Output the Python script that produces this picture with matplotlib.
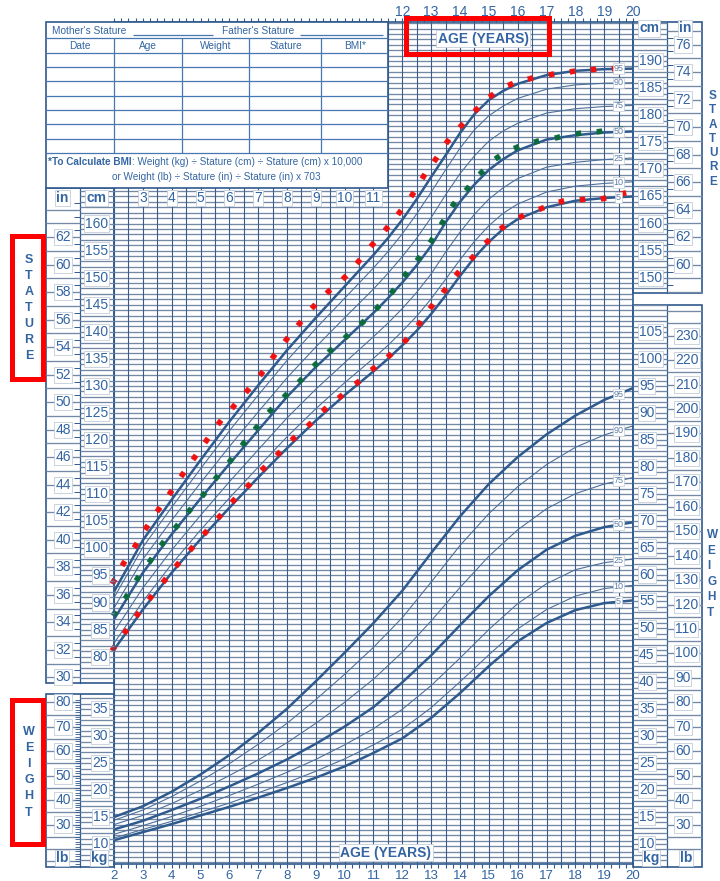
import numpy as np
import matplotlib
matplotlib.use("Agg")
import matplotlib.pyplot as plt
from matplotlib.collections import LineCollection
from matplotlib.patches import Rectangle
from matplotlib.transforms import blended_transform_factory as blend

plt.rcParams['font.family'] = ['Liberation Sans', 'DejaVu Sans']

# ---- stature-for-age percentiles (cm) ----
st_ages = [2, 3, 4, 5, 6, 7, 8, 9, 10, 11, 11.5, 12, 12.5, 13, 13.5, 14, 14.5, 15, 15.5, 16, 17, 18, 19, 20]
st_p5 = [81.3, 88.7, 95.5, 101.7, 107.5, 113.1, 118.5, 123.6, 128.3, 132.7, 135.0, 137.5, 140.2, 143.3, 146.7, 150.3, 153.7, 156.6, 159.0, 160.8, 163.0, 164.2, 164.7, 165.0]
st_p10 = [82.5, 90.2, 97.1, 103.4, 109.3, 115.0, 120.6, 125.8, 130.6, 135.1, 137.5, 140.1, 142.9, 146.1, 149.7, 153.3, 156.7, 159.6, 161.9, 163.6, 165.8, 166.9, 167.4, 167.7]
st_p25 = [84.6, 92.7, 99.7, 106.1, 112.3, 118.2, 124.1, 129.4, 134.3, 139.1, 141.6, 144.3, 147.3, 150.7, 154.7, 158.4, 161.7, 164.5, 166.6, 168.3, 170.4, 171.3, 171.8, 172.1]
st_p50 = [86.9, 95.5, 102.6, 109.2, 115.6, 121.8, 128.0, 133.5, 138.5, 143.5, 146.2, 149.1, 152.3, 155.9, 160.2, 164.0, 167.2, 169.9, 171.9, 173.5, 175.5, 176.3, 176.8, 177.0]
st_p75 = [89.0, 98.0, 105.2, 112.1, 118.8, 125.2, 131.5, 137.2, 142.6, 147.9, 150.8, 153.9, 157.3, 161.1, 165.3, 169.2, 172.5, 175.2, 177.1, 178.5, 180.4, 181.2, 181.6, 181.8]
st_p90 = [90.9, 100.2, 107.6, 114.7, 121.7, 128.3, 134.7, 140.6, 146.2, 151.8, 154.8, 158.1, 161.8, 165.8, 169.9, 173.9, 177.3, 179.9, 181.7, 183.1, 184.8, 185.6, 185.9, 186.0]
st_p95 = [92.0, 101.5, 109.0, 116.3, 123.4, 130.1, 136.6, 142.6, 148.4, 154.2, 157.3, 160.7, 164.5, 168.6, 172.6, 176.7, 180.2, 182.8, 184.5, 185.8, 187.4, 188.2, 188.5, 188.6]

# ---- weight-for-age percentiles (kg) ----
wt_ages = [2, 3, 4, 5, 6, 7, 8, 9, 10, 11, 12, 13, 14, 15, 16, 17, 18, 19, 20]
wt_p5 = [10.7, 12.2, 13.7, 15.3, 16.9, 18.6, 20.4, 22.3, 24.4, 26.9, 29.6, 33.4, 38.0, 43.0, 47.6, 51.0, 53.4, 54.7, 55.2]
wt_p10 = [11.1, 12.7, 14.2, 15.9, 17.6, 19.5, 21.4, 23.5, 25.8, 28.4, 31.3, 35.3, 40.1, 45.1, 49.9, 53.5, 56.0, 57.4, 58.0]
wt_p25 = [11.8, 13.4, 15.1, 17.0, 19.0, 21.1, 23.3, 25.7, 28.4, 31.4, 35.0, 39.4, 44.5, 49.8, 54.6, 58.3, 60.9, 62.2, 62.9]
wt_p50 = [12.7, 14.3, 16.3, 18.4, 20.7, 23.1, 25.7, 28.6, 31.8, 35.4, 40.0, 45.0, 50.6, 56.0, 60.8, 64.6, 67.2, 68.8, 69.7]
wt_p75 = [13.6, 15.3, 17.5, 20.0, 22.7, 25.6, 28.8, 32.4, 36.3, 40.6, 45.6, 51.4, 57.6, 63.4, 68.3, 72.2, 75.0, 76.8, 78.0]
wt_p90 = [14.4, 16.3, 18.8, 21.7, 24.9, 28.5, 32.4, 36.8, 41.5, 46.5, 52.0, 58.6, 65.4, 71.3, 76.3, 80.4, 83.6, 85.9, 87.6]
wt_p95 = [15.0, 17.0, 19.7, 22.9, 26.5, 30.6, 35.1, 40.2, 45.5, 51.0, 57.0, 64.0, 70.8, 76.8, 81.8, 86.0, 89.5, 92.4, 94.6]

pct_names = ['5', '10', '25', '50', '75', '90', '95']

# ---- plotted measurements ----
hi_age = [1.95, 2.32, 2.72, 3.11, 3.52, 3.93, 4.35, 4.77, 5.20, 5.65, 6.12, 6.60, 7.09, 7.53, 7.97, 8.43, 8.91, 9.43, 9.98, 10.47, 10.95, 11.42, 11.90, 12.35, 12.73, 13.12, 13.54, 14.03, 14.55, 15.08, 15.74, 16.43, 17.16, 17.90, 18.63, 19.35]
hi_cm = [93.9, 97.3, 100.6, 104.0, 107.2, 110.5, 113.7, 116.9, 120.1, 123.3, 126.3, 129.3, 132.4, 135.5, 138.6, 141.7, 144.8, 147.5, 150.2, 153.1, 156.2, 159.1, 162.2, 165.4, 168.7, 172.0, 175.2, 178.2, 181.1, 183.7, 185.7, 186.8, 187.6, 188.2, 188.5, 188.8]
mid_age = [2.00, 2.41, 2.81, 3.24, 3.66, 4.14, 4.60, 5.09, 5.55, 6.02, 6.47, 6.92, 7.41, 7.92, 8.45, 8.97, 9.49, 10.05, 10.59, 11.11, 11.63, 12.10, 12.56, 12.99, 13.38, 13.77, 14.25, 14.74, 15.30, 15.93, 16.64, 17.36, 18.08, 18.82, 19.55]
mid_cm = [88.0, 91.3, 94.6, 97.9, 101.0, 104.1, 107.1, 110.1, 113.1, 116.3, 119.5, 122.5, 125.5, 128.3, 131.1, 134.0, 136.6, 139.3, 141.9, 144.6, 147.6, 150.6, 153.7, 156.9, 160.3, 163.6, 166.6, 169.5, 172.2, 174.1, 175.2, 176.0, 176.7, 177.1, 177.4]
lo_age = [1.95, 2.37, 2.80, 3.26, 3.72, 4.19, 4.67, 5.17, 5.65, 6.14, 6.65, 7.16, 7.69, 8.21, 8.76, 9.29, 9.84, 10.42, 10.99, 11.55, 12.08, 12.57, 13.01, 13.45, 13.91, 14.41, 14.93, 15.47, 16.12, 16.80, 17.49, 18.23, 18.95, 19.67]
lo_cm = [81.6, 84.8, 87.9, 91.1, 94.2, 97.2, 100.1, 103.1, 106.0, 109.0, 111.8, 114.8, 117.6, 120.4, 123.0, 125.7, 128.2, 130.8, 133.3, 135.8, 138.5, 141.6, 144.7, 147.8, 150.9, 153.9, 156.8, 159.3, 161.4, 162.9, 164.1, 164.6, 164.7, 165.6]

# ---- colours ----
BL = '#2f5a8e'        # frame / thick curves
THIN = '#4d6f9a'
HGRID = '#7489a6'
VGRID = '#3a5b88'
TXT = '#3365a3'
TBL = '#4776b0'
BOXEC = '#c3ccd8'

W, H = 720, 881
fig = plt.figure(figsize=(W / 100, H / 100), dpi=100)

GX0, GX1, GY0, GY1 = 114, 633, 21.7, 864


def cm_at(y):
    return 80 + (656.7 - y) / 5.415


def kg_at(y):
    return 10 + (844 - y) / 5.389


ax = fig.add_axes([GX0 / W, 1 - GY1 / H, (GX1 - GX0) / W, (GY1 - GY0) / H])
ax.set_xlim(2, 20)
ax.set_ylim(cm_at(GY1), cm_at(GY0))
wx = ax.twinx()
wx.set_ylim(kg_at(GY1), kg_at(GY0))
wx.set_yticks([])
ov = fig.add_axes([0, 0, 1, 1])
ov.set_xlim(0, W)
ov.set_ylim(H, 0)
ov.axis('off')
ax.set_zorder(1)
wx.set_zorder(2)
ov.set_zorder(3)

T_cm = blend(ov.transData, ax.transData)
T_kg = blend(ov.transData, wx.transData)
T_age = blend(ax.transData, ov.transData)

# grid
lo, hi = ax.get_ylim()
ax.add_collection(LineCollection([[(2, c), (20, c)] for c in np.arange(np.ceil(lo), hi, 1)],
                                 colors=HGRID, linewidths=0.95, zorder=0.5))
ax.add_collection(LineCollection([[(a, lo), (a, hi)] for a in np.arange(2, 20.01, 0.5)],
                                 colors=VGRID, linewidths=0.8, zorder=0.6))
for s in ax.spines.values():
    s.set_color(BL)
    s.set_linewidth(1.2)
for s in wx.spines.values():
    s.set_visible(False)
ax.set_yticks([])
ax.set_xticks(range(2, 21))
ax.set_xticks(np.arange(2, 20.01, 0.25), minor=True)
ax.tick_params(axis='x', which='both', top=True, bottom=True, direction='out',
               length=3, width=0.8, color=BL, labelsize=9.5, labelcolor=TXT, pad=1)

# percentile curves
for i, vals in enumerate([st_p5, st_p10, st_p25, st_p50, st_p75, st_p90, st_p95]):
    thick = pct_names[i] in ('5', '50', '95')
    ax.plot(st_ages, vals, color=BL if thick else THIN, lw=1.8 if thick else 0.8,
            zorder=3, solid_capstyle='butt')
    ov.text(19.5, np.interp(19.5, st_ages, vals), pct_names[i], transform=blend(ax.transData, ax.transData),
            ha='center', va='center', fontsize=6.5, color='#5d7fa8',
            bbox=dict(boxstyle='square,pad=0.1', fc='white', ec=BOXEC, lw=0.5))
for i, vals in enumerate([wt_p5, wt_p10, wt_p25, wt_p50, wt_p75, wt_p90, wt_p95]):
    thick = pct_names[i] in ('5', '50', '95')
    wx.plot(wt_ages, vals, color=BL if thick else THIN, lw=1.8 if thick else 0.8, zorder=3)
    ov.text(19.5, np.interp(19.5, wt_ages, vals), pct_names[i], transform=blend(ax.transData, wx.transData),
            ha='center', va='center', fontsize=6.5, color='#5d7fa8',
            bbox=dict(boxstyle='square,pad=0.1', fc='white', ec=BOXEC, lw=0.5))


def add_markers(ages, cms, color):
    pts = ax.transData.transform(np.column_stack([ages, cms]))
    d = np.gradient(pts, axis=0)
    ang = np.degrees(np.arctan2(d[:, 1], d[:, 0]))
    for a, c, t in zip(ages, cms, ang):
        ax.plot(a, c, marker=(4, 0, 45 + t), ms=5.2, color=color, mec=color, mew=0.3,
                ls='none', clip_on=False, zorder=5)


add_markers(hi_age, hi_cm, '#f01010')
add_markers(mid_age, mid_cm, '#0b6b3c')
add_markers(lo_age, lo_cm, '#f01010')


def hseg(vals, x0, x1, trans, color=HGRID, lw=0.95):
    ov.add_collection(LineCollection([[(x0, v), (x1, v)] for v in vals], colors=color,
                                     linewidths=lw, transform=trans))


def lab(x, y, s, trans, ha='center', fs=10, bold=False, box=True):
    kw = dict(bbox=dict(boxstyle='square,pad=0.08', fc='white', ec=BOXEC, lw=0.6)) if box else {}
    ov.text(x, y, s, transform=trans, ha=ha, va='center', fontsize=fs, color=TXT,
            fontweight='bold' if bold else 'normal', **kw)


def panel(x0, y0, x1, y1, xs):
    ov.add_patch(Rectangle((x0, y0), x1 - x0, y1 - y0, fc='none', ec=BL, lw=1.2))
    ov.plot([xs, xs], [y0, y1], color=BL, lw=0.9)


# left stature panel
panel(45.7, 188.3, GX0, 683, 80)
y_in = [i * 2.54 for i in range(30, 65)]
hseg(y_in, 45.7, 80, T_cm)
hseg([(i + 0.5) * 2.54 for i in range(30, 65)], 74, 80, T_cm, color=BL, lw=0.7)
hseg(range(76, 167), 80, GX0, T_cm)
for i in range(30, 63, 2):
    lab(71, i * 2.54, str(i), T_cm, ha='right')
for c in range(80, 161, 5):
    lab(108, c, str(c), T_cm, ha='right')
lab(62.5, 198, 'in', ov.transData, bold=True)
lab(96.5, 198, 'cm', ov.transData, bold=True)

# left weight panel
panel(45.7, 694.3, GX0, 866.7, 80)
hseg(range(7, 38), 80, GX0, T_kg)
hseg([lb * 0.4536 for lb in range(15, 81, 5)], 45.7, 80, T_kg)
hseg([lb * 0.4536 for lb in range(14, 82)], 75, 80, T_kg, color=BL, lw=0.6)
for lb in range(30, 81, 10):
    lab(71, lb * 0.4536, str(lb), T_kg, ha='right')
for k in range(10, 36, 5):
    lab(108, k, str(k), T_kg, ha='right')
lab(62, 858, 'lb', ov.transData, bold=True)
lab(99, 858, 'kg', ov.transData, bold=True)

# right stature panel
panel(GX1, GY0, 701.7, 292.7, 667.3)
hseg(range(148, 198), GX1, 667.3, T_cm)
hseg([i * 2.54 for i in range(58, 78)], 667.3, 701.7, T_cm)
hseg([(i + 0.5) * 2.54 for i in range(58, 77)], 667.3, 673, T_cm, color=BL, lw=0.7)
for c in range(150, 191, 5):
    lab(639, c, str(c), T_cm, ha='left')
for i in range(60, 77, 2):
    lab(675, i * 2.54, str(i), T_cm, ha='left')
lab(649, 28.5, 'cm', ov.transData, bold=True)
lab(685, 28.5, 'in', ov.transData, bold=True)

# right weight panel
panel(GX1, 305, 701.7, 866.7, 667.3)
hseg(range(7, 111), GX1, 667.3, T_kg)
hseg([lb * 0.4536 for lb in range(20, 241, 5)], 667.3, 701.7, T_kg)
for k in range(10, 106, 5):
    lab(639, k, str(k), T_kg, ha='left')
for lb in range(30, 231, 10):
    lab(675, lb * 0.4536, str(lb), T_kg, ha='left')
lab(651, 858, 'kg', ov.transData, bold=True)
lab(686, 858, 'lb', ov.transData, bold=True)

# ages inside / above the grid
for a in range(3, 12):
    lab(a, 198, str(a), T_age)
for a in range(12, 21):
    ov.text(a, 11.5, str(a), transform=T_age, ha='center', va='center', fontsize=10, color=TXT)

# record table
ov.add_patch(Rectangle((45.7, 21.7), 342, 166.6, fc='white', ec=BL, lw=1.2, zorder=4))
tkw = dict(colors=TBL, linewidths=0.9, zorder=5)
ov.add_collection(LineCollection([[(45.7, y), (387.7, y)] for y in
                                  [38.3, 52.7, 67.3, 81.3, 95.7, 110, 124.3, 139, 153.3]], **tkw))
ov.add_collection(LineCollection([[(x, 38.3), (x, 153.3)] for x in [113.7, 181.7, 249.3, 320.7]], **tkw))
ov.add_collection(LineCollection([[(133, 34.5), (213, 34.5)], [(300, 34.5), (383, 34.5)]], **tkw))
ttx = dict(fontsize=7.3, color=TXT, va='center', zorder=6)
ov.text(52, 30.5, "Mother's Stature", ha='left', **ttx)
ov.text(221.5, 30.5, "Father's Stature", ha='left', **ttx)
for x, s in zip([79.5, 147.7, 215.5, 285.5, 355], ['Date', 'Age', 'Weight', 'Stature', 'BMI*']):
    ov.text(x, 46, s, ha='center', **ttx)
t1 = ov.text(48.5, 167, '*To Calculate BMI', ha='left', va='bottom', fontsize=7.2, color=TXT,
             fontweight='bold', zorder=6)
ov.annotate(': Weight (kg) \u00f7 Stature (cm) \u00f7 Stature (cm) x 10,000', xy=(1, 0), xycoords=t1,
            ha='left', va='bottom', fontsize=7.2, color=TXT, zorder=6)
ov.text(216, 176.5, 'or Weight (lb) \u00f7 Stature (in) \u00f7 Stature (in) x 703', ha='center',
        va='center', fontsize=7.2, color=TXT, zorder=6)

# titles
for x, y in [(483, 38.5), (386, 852.5)]:
    ov.text(x, y, 'AGE (YEARS)', ha='center', va='center', fontsize=10, fontweight='bold', color=TXT,
            bbox=dict(boxstyle='square,pad=0.12', fc='white', ec=BOXEC, lw=0.6), zorder=6)
for i, ch in enumerate('STATURE'):
    ov.text(29, 260 + i * 16, ch, ha='center', va='center', fontsize=9, fontweight='bold', color=TXT)
for i, ch in enumerate('WEIGHT'):
    ov.text(29, 732 + i * 16.1, ch, ha='center', va='center', fontsize=9, fontweight='bold', color=TXT)
for i, ch in enumerate('STATURE'):
    ov.text(709, 96 + i * 14.3, ch, ha='left', va='center', fontsize=8.5, fontweight='bold', color=TXT)
for i, ch in enumerate('WEIGHT'):
    ov.text(707, 535 + i * 15.6, ch, ha='left', va='center', fontsize=8.5, fontweight='bold', color=TXT)

# red highlight boxes
for x0, y0, x1, y1 in [(11.5, 235.5, 43.2, 379.2), (11.5, 700.2, 43.2, 844.2), (405.5, 17.5, 548.5, 53.5)]:
    ov.add_patch(Rectangle((x0, y0), x1 - x0, y1 - y0, fc='none', ec='#ff0000', lw=3.6, zorder=7))

fig.savefig('out.png', dpi=100)
